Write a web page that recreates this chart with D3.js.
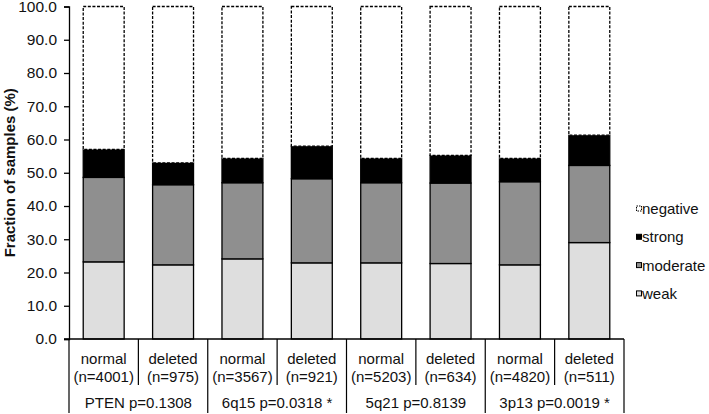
<!DOCTYPE html>
<html>
<head>
<meta charset="utf-8">
<script src="https://cdn.jsdelivr.net/npm/d3@7"></script>
<style>
  body { margin: 0; background: #fff; }
  text { font-family: "Liberation Sans", Arial, sans-serif; fill: #111; }
</style>
</head>
<body>
<script>
// data
const bars = ['b1','b2','b3','b4','b5','b6','b7','b8'];
const status = ['normal','deleted','normal','deleted','normal','deleted','normal','deleted'];
const counts = ['(n=4001)','(n=975)','(n=3567)','(n=921)','(n=5203)','(n=634)','(n=4820)','(n=511)'];
const groups = ['PTEN p=0.1308','6q15 p=0.0318 *','5q21 p=0.8139','3p13 p=0.0019 *'];
const weak     = [23.2, 22.3, 24.1, 22.9, 22.9, 22.7, 22.3, 29.0];
const moderate = [25.4, 24.1, 22.9, 25.3, 24.1, 24.2, 25.0, 23.2];
const strong   = [ 8.4,  6.6,  7.3,  9.8,  7.3,  8.3,  7.0,  9.1];
const negative = bars.map((b,i) => 100 - weak[i] - moderate[i] - strong[i]);
const yTicks = [0,10,20,30,40,50,60,70,80,90,100];

const seriesKeys = ['weak','moderate','strong','negative'];
const colors = {weak:'#dedede', moderate:'#8f8f8f', strong:'#000', negative:'#fff'};
const legendKeys = ['negative','strong','moderate','weak'];

const W = 709, H = 414;
const mLeft = 69, mRight = 624, mTop = 6.5, mBottom = 339;

const svg = d3.select('body').append('svg')
  .attr('width', W).attr('height', H);

const x = d3.scaleBand().domain(bars).range([mLeft, mRight])
  .paddingInner(0.41).paddingOuter(0.205);
const y = d3.scaleLinear().domain([0, 100]).range([mBottom, mTop]);

// stacked data
const table = bars.map((b,i) => ({bar:b, weak:weak[i], moderate:moderate[i], strong:strong[i], negative:negative[i]}));
const stacked = d3.stack().keys(seriesKeys)(table);

svg.append('g').selectAll('g')
  .data(stacked)
  .join('g')
  .each(function(s){
    d3.select(this).selectAll('rect')
      .data(s)
      .join('rect')
      .attr('x', d => x(d.data.bar))
      .attr('width', x.bandwidth())
      .attr('y', d => y(d[1]))
      .attr('height', d => y(d[0]) - y(d[1]))
      .attr('fill', colors[s.key])
      .attr('stroke', '#000')
      .attr('stroke-width', 1.3)
      .attr('stroke-dasharray', s.key == 'negative' ? '3,1.6' : null);
  });

// y axis
const yAxis = svg.append('g')
  .attr('transform', 'translate(' + mLeft + ',0)')
  .call(d3.axisLeft(y).tickValues(yTicks).tickFormat(d3.format('.1f')).tickSize(5).tickPadding(7));
yAxis.select('.domain').attr('stroke', '#000').attr('stroke-width', 1.3);
yAxis.selectAll('.tick line').attr('stroke', '#000').attr('stroke-width', 1.3);
yAxis.selectAll('.tick text')
  .attr('font-size', 15.5)
  .attr('font-family', '"Liberation Sans", Arial, sans-serif')
  .attr('fill', '#111');

svg.append('text')
  .attr('transform', 'translate(15,' + ((mTop + mBottom) / 2) + ') rotate(-90)')
  .attr('text-anchor', 'middle')
  .attr('font-size', 15)
  .attr('font-weight', 'bold')
  .text('Fraction of samples (%)');

// baseline
svg.append('line')
  .attr('x1', mLeft - 5).attr('x2', mRight)
  .attr('y1', mBottom).attr('y2', mBottom)
  .attr('stroke', '#000').attr('stroke-width', 1.3);

// table under the bars
const step = x.step();
const tbl = svg.append('g');
d3.range(bars.length + 1).forEach(k => {
  const xx = mLeft + k * step;
  const full = k % 2 == 0;
  tbl.append('line')
    .attr('x1', xx).attr('x2', xx)
    .attr('y1', mBottom).attr('y2', full ? 413 : 385)
    .attr('stroke', '#000').attr('stroke-width', 1.2);
});

tbl.selectAll('text.status')
  .data(bars)
  .join('text')
  .attr('class', 'status')
  .attr('x', d => x(d) + x.bandwidth() / 2)
  .attr('y', 364)
  .attr('text-anchor', 'middle')
  .attr('font-size', 15)
  .text((d,i) => status[i]);

tbl.selectAll('text.count')
  .data(bars)
  .join('text')
  .attr('class', 'count')
  .attr('x', d => x(d) + x.bandwidth() / 2)
  .attr('y', 382)
  .attr('text-anchor', 'middle')
  .attr('font-size', 15)
  .text((d,i) => counts[i]);

tbl.selectAll('text.group')
  .data(groups)
  .join('text')
  .attr('class', 'group')
  .attr('x', (d,i) => mLeft + (2 * i + 1) * step)
  .attr('y', 408)
  .attr('text-anchor', 'middle')
  .attr('font-size', 15)
  .text(d => d);

// legend
const lg = svg.append('g');
legendKeys.forEach((k, i) => {
  const cy = 209 + i * 28.3;
  lg.append('rect')
    .attr('x', 636.5).attr('y', cy - 3)
    .attr('width', 5).attr('height', 5)
    .attr('fill', colors[k])
    .attr('stroke', '#000')
    .attr('stroke-width', 1)
    .attr('stroke-dasharray', k == 'negative' ? '1.5,1' : null);
  lg.append('text')
    .attr('x', 642).attr('y', cy + 5)
    .attr('font-size', 15)
    .text(k);
});
</script>
</body>
</html>
